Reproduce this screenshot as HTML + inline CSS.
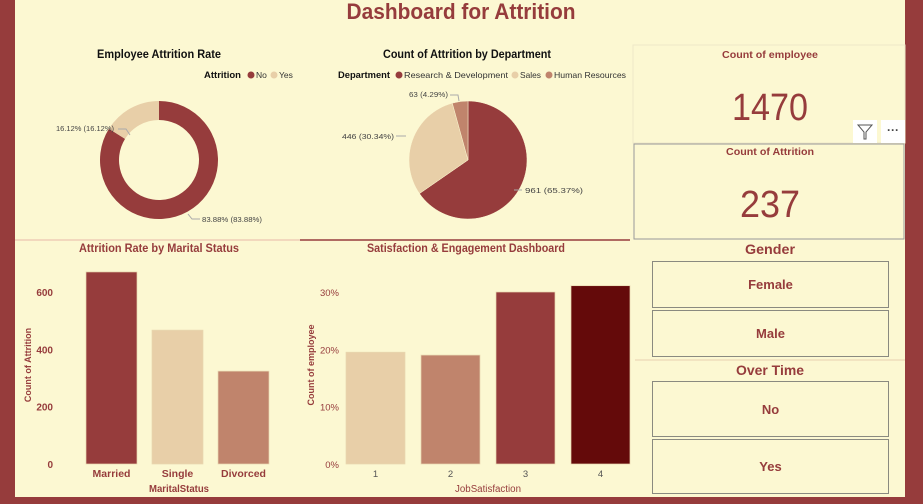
<!DOCTYPE html>
<html><head><meta charset="utf-8"><style>
body{margin:0;width:923px;height:504px;background:#963c3c;overflow:hidden;font-family:"Liberation Sans",sans-serif}
#main{position:absolute;left:15px;top:0;width:890px;height:497px;background:#fcf8d2}
svg{position:absolute;left:0;top:0}
.btn{position:absolute;left:652px;width:235px;border:1px solid #8a8a80;display:flex;align-items:center;justify-content:center;color:#963c3c;font-weight:bold;font-size:13px;font-family:"Liberation Sans",sans-serif}
</style></head><body>
<div id="main"></div>
<svg id="s" width="923" height="504" font-family="Liberation Sans, sans-serif"></svg>
<div class="btn" style="top:261px;height:45px">Female</div>
<div class="btn" style="top:310px;height:45px">Male</div>
<div class="btn" style="top:381px;height:54px">No</div>
<div class="btn" style="top:439px;height:53px">Yes</div>
<script>
const attrCats=["No","Yes"];
const attrVals=[83.88,16.12];
const deptCats=["Research & Development","Sales","Human Resources"];
const deptVals=[961,446,63];
const maritalCats=["Married","Single","Divorced"];
const maritalVals=[670,467,324];
const maritalTicks=[0,200,400,600];
const satCats=["1","2","3","4"];
const satVals=[19.5,19.0,30.0,31.1];
const satTicks=[0,10,20,30];
const C=["#963c3c","#e8cfa8","#c0846c","#640a0a"];
const s=document.getElementById('s');
const NS="http://www.w3.org/2000/svg";
function el(t,a,txt,name,inter){const e=document.createElementNS(NS,t);for(const k in a)e.setAttribute(k,a[k]);if(txt!==undefined)e.textContent=txt;


s.appendChild(e);return e;}
function T(x,y,txt,sz,col,w,anchor,name,len){const a={x:x,y:y,'font-size':sz,fill:col,'font-weight':w||'normal','text-anchor':anchor||'middle'};if(len){a.textLength=len;a.lengthAdjust='spacingAndGlyphs';}return el('text',a,txt,name);}
T(461,19,"Dashboard for Attrition",22,"#963c3c","bold","middle","dashboard-title",229);
el('line',{x1:15,y1:240,x2:300,y2:240,stroke:"#e8b8a8","stroke-width":1},undefined,"separator-left");
el('line',{x1:300,y1:240,x2:630,y2:240,stroke:"#963c3c","stroke-width":1.5},undefined,"separator-mid");
el('line',{x1:635,y1:360,x2:905,y2:360,stroke:"#e8d0b0","stroke-width":1},undefined,"separator-right");
function arc(cx,cy,r,ri,a0,a1){const p=(a,rr)=>[cx+rr*Math.sin(a),cy-rr*Math.cos(a)];const lg=(a1-a0)>Math.PI?1:0;
const [x0,y0]=p(a0,r),[x1,y1]=p(a1,r);
if(ri>0){const [x2,y2]=p(a1,ri),[x3,y3]=p(a0,ri);return `M${x0},${y0}A${r},${r} 0 ${lg} 1 ${x1},${y1}L${x2},${y2}A${ri},${ri} 0 ${lg} 0 ${x3},${y3}Z`;}
return `M${cx},${cy}L${x0},${y0}A${r},${r} 0 ${lg} 1 ${x1},${y1}Z`;}
T(159,58,"Employee Attrition Rate",11.5,"#111","bold","middle","donut-title",124);
T(241,78,"Attrition",9,"#111","bold","end","donut-legend-title",37);
let lx=248;attrCats.forEach((c,i)=>{el('circle',{cx:lx+3,cy:75,r:3.5,fill:C[i]},undefined,'legend-marker-'+c.toLowerCase());T(lx+8,78,c,8.5,"#333","normal","start",'legend-'+c.toLowerCase());lx+=23;});
{let tot=attrVals.reduce((a,b)=>a+b,0),a=0;attrVals.forEach((v,i)=>{const a1=a+v/tot*2*Math.PI;el('path',{d:arc(159,160,59,40,a,a1),fill:C[i]},undefined,'donut-slice-'+attrCats[i].toLowerCase());a=a1;});}
T(56,131,attrVals[1].toFixed(2)+"% ("+attrVals[1].toFixed(2)+"%)",7.5,"#444","normal","start","donut-label-yes",58);
el('polyline',{points:"118,129 126,129 130,135",fill:"none",stroke:"#aaa"},undefined,"leader-yes");
T(202,222,attrVals[0].toFixed(2)+"% ("+attrVals[0].toFixed(2)+"%)",7.5,"#444","normal","start","donut-label-no",60);
el('polyline',{points:"188,214 192,219 200,219",fill:"none",stroke:"#aaa"},undefined,"leader-no");
T(467,58,"Count of Attrition by Department",11.5,"#111","bold","middle","pie-title",168);
T(390,78,"Department",9,"#111","bold","end","pie-legend-title",52);
const legX=[396,512,546],legW=[104,21,72];
deptCats.forEach((c,i)=>{el('circle',{cx:legX[i]+3,cy:75,r:3.5,fill:C[i]},undefined,'pie-legend-marker-'+i);T(legX[i]+8,78,c,8.5,"#333","normal","start",'pie-legend-'+i,legW[i]);});
{let tot=deptVals.reduce((a,b)=>a+b,0),a=0;deptVals.forEach((v,i)=>{const a1=a+v/tot*2*Math.PI;el('path',{d:arc(468,160,59,0,a,a1),fill:C[i],stroke:"#fcf8d2","stroke-width":0.5},undefined,'pie-slice-'+i);a=a1;});
const pct=deptVals.map(v=>(v/tot*100).toFixed(2));
T(525,193,deptVals[0]+" ("+pct[0]+"%)",7.5,"#444","normal","start","pie-label-rd",58);
T(394,139,deptVals[1]+" ("+pct[1]+"%)",7.5,"#444","normal","end","pie-label-sales",52);
T(448,97,deptVals[2]+" ("+pct[2]+"%)",7.5,"#444","normal","end","pie-label-hr",39);}
el('polyline',{points:"396,136 406,136",fill:"none",stroke:"#aaa"},undefined,"leader-sales");
el('polyline',{points:"450,95 458,95 459,101",fill:"none",stroke:"#aaa"},undefined,"leader-hr");
el('polyline',{points:"514,190 522,190",fill:"none",stroke:"#aaa"},undefined,"leader-rd");
function bars(cats,vals,ticks,maxV,x0,bw,gap,cols,fmt,pref){
 const y0=464,ppu=172/maxV;
 ticks.forEach(t=>T(pref==='sat'?339:53,y0-t*ppu+4,fmt(t),pref==='sat'?9.5:10,"#963c3c",pref==='sat'?"normal":"bold","end",pref+'-ytick-'+t));
 cats.forEach((c,i)=>{const x=x0+i*(bw+gap),h=vals[i]*ppu;
  el('rect',{x:x,y:y0-h,width:bw,height:h,fill:cols[i],stroke:"#e8d8b0","stroke-width":0.7},undefined,pref+'-bar-'+c.toLowerCase());
  T(x+bw/2,477,c,pref==='sat'?9.5:10.5,pref==='sat'?"#555":"#963c3c",pref==='sat'?"normal":"bold","middle",pref+'-xtick-'+c.toLowerCase());});
}
T(159,252,"Attrition Rate by Marital Status",11.5,"#963c3c","bold","middle","marital-title",160);
bars(maritalCats,maritalVals,maritalTicks,600,86,51,15,[C[0],C[1],C[2]],t=>String(t),'marital');
T(179,492,"MaritalStatus",10,"#963c3c","bold","middle","marital-x-title",60);
el('text',{x:31,y:365,'font-size':9,fill:"#963c3c",'font-weight':'bold','text-anchor':'middle',transform:"rotate(-90 31 365)"},"Count of Attrition","marital-y-title");
T(466,252,"Satisfaction & Engagement Dashboard",11.5,"#963c3c","bold","middle","sat-title",198);
bars(satCats,satVals,satTicks,30,346,59,16,[C[1],C[2],C[0],C[3]],t=>t+"%",'sat');
T(488,492,"JobSatisfaction",10,"#963c3c","normal","middle","sat-x-title",66);
el('text',{x:314,y:365,'font-size':9,fill:"#963c3c",'font-weight':'bold','text-anchor':'middle',transform:"rotate(-90 314 365)"},"Count of employee","sat-y-title");
el('rect',{x:633,y:45,width:272,height:98,fill:"none",stroke:"#eee8c8"},undefined,"employee-card");
T(770,58,"Count of employee",10.5,"#963c3c","bold","middle","employee-card-label",96);
T(770,120,"1470",38,"#963c3c","normal","middle","employee-card-value",76);
el('rect',{x:634,y:144,width:270,height:95,fill:"none",stroke:"#999"},undefined,"attrition-card");
T(770,155,"Count of Attrition",10.5,"#963c3c","bold","middle","attrition-card-label",88);
T(770,217,"237",38,"#963c3c","normal","middle","attrition-card-value",60);
el('rect',{x:853,y:120,width:24,height:23,fill:"#fff"},undefined,"filter-icon-box",true);
el('path',{d:"M858,125 L872,125 L866,132 L866,139 L864,139 L864,132 Z",fill:"none",stroke:"#555"},undefined,"filter-icon",true);
el('rect',{x:881,y:120,width:24,height:23,fill:"#fff"},undefined,"more-options-box",true);
T(893,134,"···",12,"#444","bold","middle","more-options-icon");
T(770,254,"Gender",14,"#963c3c","bold","middle","gender-title",50);
T(770,375,"Over Time",14,"#963c3c","bold","middle","overtime-title",68);
</script>
</body></html>
